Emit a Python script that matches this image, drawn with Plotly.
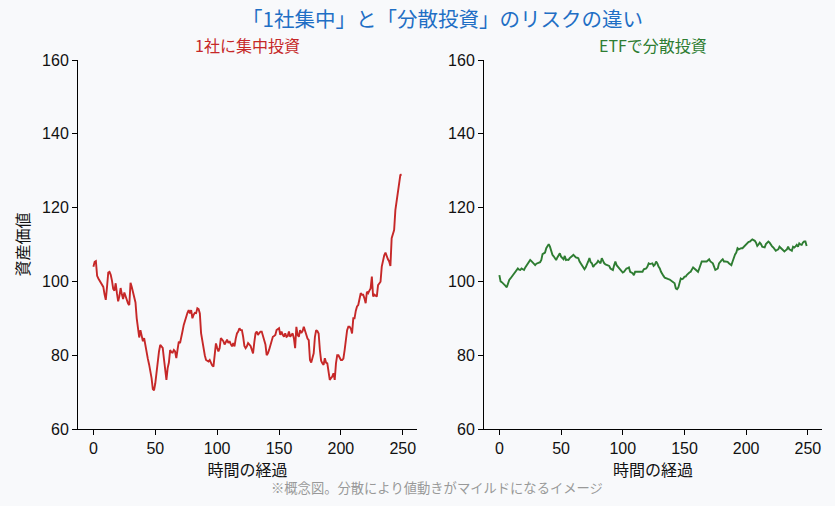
import plotly.graph_objects as go
from plotly.subplots import make_subplots

steps = list(range(250))

concentrated = [
    104.0, 105.3, 105.5, 101.5, 100.8, 100.2, 99.6, 99.0, 98.5, 96.5,
    95.0, 98.5, 102.4, 102.6, 101.8, 100.2, 98.0, 97.5, 99.5, 96.8,
    94.6, 96.0, 98.2, 96.5, 95.2, 97.0, 96.0, 94.5, 94.0, 93.6,
    99.6, 98.5, 97.0, 95.5, 94.3, 90.0, 87.8, 84.8, 86.8, 85.0,
    83.8, 84.6, 82.3, 80.5, 79.0, 77.5, 76.0, 73.8, 70.8, 70.5,
    72.4, 75.5, 78.7, 81.0, 82.8, 82.4, 82.0, 79.0, 75.0, 73.3,
    76.5, 78.0, 81.4, 80.8, 80.7, 81.4, 81.0, 79.2, 81.5, 83.7,
    83.3, 84.6, 86.5, 88.2, 89.5, 90.4, 91.5, 92.2, 91.3, 92.2,
    90.0, 91.0, 91.5, 91.4, 92.7, 92.5, 91.3, 86.0, 83.5, 81.9,
    80.0, 78.7, 78.5, 78.3, 78.7, 77.8, 77.2, 76.9, 79.6, 83.2,
    82.0, 81.0, 81.9, 84.6, 84.2, 83.8, 82.9, 83.5, 84.2, 83.3,
    83.8, 83.0, 82.4, 83.3, 82.4, 84.5, 85.9, 86.4, 87.3, 86.8,
    86.8, 85.0, 82.5, 81.9, 82.4, 83.3, 82.9, 82.5, 81.5, 80.5,
    83.5, 85.9, 86.4, 85.5, 86.0, 86.4, 86.4, 85.0, 84.0, 82.9,
    80.0, 80.5, 81.5, 82.9, 84.2, 85.0, 85.2, 85.5, 86.8, 87.0,
    87.3, 85.5, 86.4, 85.5, 85.0, 85.9, 85.0, 85.2, 86.4, 85.0,
    85.5, 85.9, 84.6, 81.9, 87.7, 85.5, 85.0, 86.8, 86.0, 86.5,
    87.7, 86.4, 85.0, 84.5, 84.1, 78.7, 78.0, 79.0, 80.5, 85.0,
    86.8, 86.5, 85.9, 81.4, 78.5, 77.8, 77.4, 79.2, 78.0, 77.8,
    75.1, 73.3, 73.8, 74.2, 75.1, 73.3, 77.8, 80.0, 80.0, 79.5,
    78.7, 78.7, 79.1, 81.4, 84.0, 86.8, 87.7, 87.7, 87.2, 85.9,
    90.0, 90.0, 92.0, 93.2, 93.6, 95.9, 96.8, 96.4, 96.4, 95.4,
    94.1, 97.2, 96.8, 97.5, 98.1, 101.3, 95.9, 96.4, 96.0, 95.9,
    99.0, 99.5, 99.9, 104.0, 105.8, 107.1, 107.8, 106.7, 106.0, 105.4,
    104.2, 111.7, 113.0, 113.9, 119.3, 122.1, 124.5, 127.0, 128.8, 129.0,
]

diversified = [
    101.7, 100.0, 99.8, 99.5, 99.3, 98.8, 98.4, 99.5, 100.4, 100.8,
    101.3, 101.8, 102.2, 102.6, 103.1, 103.5, 103.2, 103.1, 103.5, 103.3,
    103.1, 103.8, 104.4, 104.9, 105.2, 105.8, 105.5, 105.1, 104.6, 104.4,
    104.8, 104.9, 104.9, 105.2, 105.8, 107.4, 107.6, 107.8, 109.0, 109.8,
    110.1, 109.4, 108.1, 107.2, 106.8, 106.3, 105.8, 106.5, 106.9, 107.6,
    106.7, 106.2, 106.0, 106.9, 105.8, 105.9, 105.8, 106.3, 106.5, 106.9,
    107.2, 106.8, 106.5, 106.4, 106.3, 105.4, 104.9, 104.3, 103.9, 103.3,
    103.8, 104.4, 105.4, 106.3, 105.2, 104.9, 103.9, 104.4, 104.6, 105.0,
    105.6, 105.3, 104.9, 106.3, 105.5, 104.9, 104.6, 104.4, 104.4, 104.2,
    103.5, 103.3, 103.1, 104.4, 105.4, 104.4, 104.0, 103.5, 103.1, 102.6,
    102.4, 102.6, 103.1, 103.5, 103.6, 103.8, 102.6, 102.4, 102.2, 101.7,
    102.6, 102.6, 102.6, 102.4, 102.4, 102.5, 102.6, 103.3, 103.4, 103.5,
    104.0, 104.9, 104.7, 104.7, 104.9, 104.2, 104.5, 105.4, 104.9, 104.0,
    103.5, 102.6, 102.2, 101.5, 101.0, 100.8, 100.6, 100.6, 100.5, 100.2,
    99.9, 99.6, 99.5, 98.1, 97.9, 98.3, 99.5, 100.8, 100.6, 100.8,
    101.3, 101.3, 101.8, 102.2, 102.4, 102.6, 103.2, 103.8, 103.5, 103.1,
    102.8, 102.6, 103.5, 104.4, 105.4, 105.4, 105.3, 105.4, 105.4, 105.6,
    106.0, 105.4, 105.1, 104.9, 104.0, 103.1, 103.3, 103.5, 104.9, 105.4,
    105.7, 106.0, 105.4, 105.4, 105.4, 105.3, 104.9, 104.6, 104.4, 105.4,
    106.7, 107.3, 107.8, 109.0, 108.7, 108.9, 109.0, 109.0, 109.4, 109.6,
    109.9, 110.5, 110.7, 110.8, 111.0, 111.4, 111.2, 111.0, 110.5, 109.6,
    110.0, 110.5, 110.1, 109.4, 109.3, 109.2, 110.1, 110.5, 110.8, 110.5,
    109.9, 109.5, 109.2, 108.7, 108.3, 108.5, 108.7, 109.4, 109.0, 108.7,
    108.5, 108.1, 108.4, 108.7, 109.4, 108.7, 108.5, 108.3, 109.4, 109.2,
    109.5, 109.9, 109.4, 110.3, 110.0, 109.9, 110.5, 110.8, 110.8, 109.6,
]

y_ticks = [60, 80, 100, 120, 140, 160]
x_ticks = [0, 50, 100, 150, 200, 250]

title_text = "「1社集中」と「分散投資」のリスクの違い"
left_title = "1社に集中投資"
right_title = "ETFで分散投資"
y_label = "資産価値"
x_label = "時間の経過"
footnote = "※概念図。分散により値動きがマイルドになるイメージ"

RED = "#c62828"
GREEN = "#2e7d32"
BG = "#f8f9fb"
FONT = "Noto Sans CJK JP"
NUMFONT = "Liberation Sans"

fig = make_subplots(rows=1, cols=2)
fig.add_trace(go.Scatter(x=steps, y=concentrated, mode="lines",
                         line=dict(color=RED, width=1.9), showlegend=False), 1, 1)
fig.add_trace(go.Scatter(x=steps, y=diversified, mode="lines",
                         line=dict(color=GREEN, width=1.9), showlegend=False), 1, 2)

axis_common = dict(showgrid=False, zeroline=False, showline=True, linecolor="#000",
                   linewidth=1, ticks="outside", ticklen=5, tickcolor="#000",
                   tickfont=dict(family=NUMFONT, size=16, color="#111"))

fig.update_xaxes(**axis_common, range=[-12.45, 261.45], tickvals=x_ticks,
                 title=dict(text=x_label, font=dict(family=FONT, size=16, color="#111"), standoff=4))
fig.update_yaxes(**axis_common, range=[60, 160], tickvals=y_ticks)
fig.update_yaxes(title=dict(text=y_label, font=dict(family=FONT, size=16, color="#111"), standoff=8),
                 row=1, col=1)

fig.update_layout(
    width=835, height=506,
    paper_bgcolor=BG, plot_bgcolor=BG,
    margin=dict(l=78, r=13, t=60, b=77),
    xaxis=dict(domain=[0, 0.4556]),
    xaxis2=dict(domain=[0.5457, 1]),
    font=dict(family=FONT),
)

def pix_y(py):
    return (506 - 77 - py) / (506 - 60 - 77)

fig.add_annotation(text=title_text, x=(442 - 78) / 744, y=pix_y(18), xref="paper", yref="paper",
                   showarrow=False, font=dict(family=FONT, size=20.5, color="#1f6fc5"),
                   xanchor="center", yanchor="middle")
fig.add_annotation(text=left_title, x=0.4556 / 2, y=pix_y(45), xref="paper", yref="paper",
                   showarrow=False, font=dict(family=FONT, size=16, color=RED),
                   xanchor="center", yanchor="middle")
fig.add_annotation(text=right_title, x=(0.5457 + 1) / 2, y=pix_y(45), xref="paper", yref="paper",
                   showarrow=False, font=dict(family=FONT, size=16, color=GREEN),
                   xanchor="center", yanchor="middle")
fig.add_annotation(text=footnote, x=(437 - 78) / 744, y=pix_y(487), xref="paper", yref="paper",
                   showarrow=False, font=dict(family=FONT, size=13.3, color="#999"),
                   xanchor="center", yanchor="middle")

fig.write_html("out.html")
